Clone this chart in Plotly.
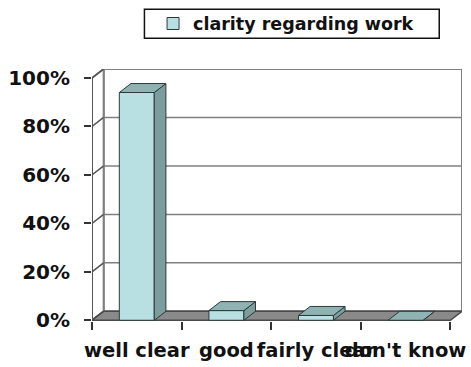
import plotly.graph_objects as go

# Survey answers and their shares (percent)
categories = ["well clear", "good", "fairly clear", "don't know"]
shares = [94, 4, 2, 0]
series_name = "clarity regarding work"
y_ticks = [0, 20, 40, 60, 80, 100]
y_tick_labels = [f"{v}%" for v in y_ticks]

# Pseudo-3D depth offsets, in axis units (categories / percent)
DX = 0.13
DY = 3.7
BAR_W = 0.39

FRONT = "#b8e0e3"
SIDE = "#7b9d9d"
TOP = "#8fb2b3"
EDGE = "#2e3a3a"
WALL_LINE = "#7f7f7f"
FLOOR = "#8a8a8a"

n = len(categories)
xs = list(range(n))
x_left, x_right = -0.5, n - 0.5

fig = go.Figure()

# Front faces of the bars
fig.add_trace(go.Bar(
    x=xs, y=shares, width=BAR_W, name=series_name,
    marker=dict(color=FRONT, line=dict(color=EDGE, width=1)),
    showlegend=True, hoverinfo="skip",
))

# Side faces
sx, sy = [], []
for i, v in zip(xs, shares):
    r = i + BAR_W / 2
    sx += [r, r + DX, r + DX, r, r, None]
    sy += [0, DY, v + DY, v, 0, None]
fig.add_trace(go.Scatter(
    x=sx, y=sy, mode="lines", fill="toself", fillcolor=SIDE,
    line=dict(color=EDGE, width=1), showlegend=False, hoverinfo="skip",
))

# Top faces
tx, ty = [], []
for i, v in zip(xs, shares):
    l, r = i - BAR_W / 2, i + BAR_W / 2
    tx += [l, r, r + DX, l + DX, l, None]
    ty += [v, v, v + DY, v + DY, v, None]
fig.add_trace(go.Scatter(
    x=tx, y=ty, mode="lines", fill="toself", fillcolor=TOP,
    line=dict(color=EDGE, width=1), showlegend=False, hoverinfo="skip",
))

shapes = []
# Back wall
shapes.append(dict(type="rect", xref="x", yref="y", layer="below",
                   x0=x_left + DX, x1=x_right + DX, y0=DY, y1=100 + DY,
                   fillcolor="white", line=dict(color=WALL_LINE, width=2)))
# Left side wall
shapes.append(dict(type="path", xref="x", yref="y", layer="below",
                   path=f"M{x_left},0 L{x_left},100 L{x_left + DX},{100 + DY} "
                        f"L{x_left + DX},{DY} Z",
                   fillcolor="white", line=dict(color=WALL_LINE, width=2)))
# Gridlines on the back wall and their connectors to the front axis
for v in y_ticks:
    shapes.append(dict(type="line", xref="x", yref="y", layer="below",
                       x0=x_left, y0=v, x1=x_left + DX, y1=v + DY,
                       line=dict(color="#555555", width=1.5)))
    if 0 < v < 100:
        shapes.append(dict(type="line", xref="x", yref="y", layer="below",
                           x0=x_left + DX, y0=v + DY, x1=x_right + DX, y1=v + DY,
                           line=dict(color=WALL_LINE, width=1.5)))
# Floor
shapes.append(dict(type="path", xref="x", yref="y", layer="below",
                   path=f"M{x_left},0 L{x_right},0 L{x_right + DX},{DY} "
                        f"L{x_left + DX},{DY} Z",
                   fillcolor=FLOOR, line=dict(color="#4a4a4a", width=1.5)))
# Front value axis
shapes.append(dict(type="line", xref="x", yref="y", layer="below",
                   x0=x_left, y0=0, x1=x_left, y1=100,
                   line=dict(color="#555555", width=2)))
# Legend frame
shapes.append(dict(type="rect", xref="paper", yref="paper",
                   x0=0.1417, x1=0.9385, y0=1.1225, y1=1.2372,
                   fillcolor="white", line=dict(color="#111111", width=1.5),
                   layer="below"))

tick_font = dict(family="DejaVu Sans", size=20, color="#111111", weight="bold")
x_tick_font = dict(family="DejaVu Sans", size=19.5, color="#111111", weight="bold")

fig.update_layout(
    width=471, height=367,
    margin=dict(l=92, r=5, t=69, b=45),
    paper_bgcolor="white", plot_bgcolor="white",
    shapes=shapes,
    barmode="overlay",
    showlegend=True,
    legend=dict(x=0.165, y=1.18, xanchor="left", yanchor="middle",
                bgcolor="rgba(0,0,0,0)", borderwidth=0,
                font=dict(family="DejaVu Sans", size=17.5, color="#111111",
                          weight="bold")),
    xaxis=dict(range=[x_left, x_right + DX], tickvals=xs, ticktext=categories,
               tickangle=0, ticks="", showgrid=False, zeroline=False,
               showline=False, tickfont=x_tick_font, ticklabelstandoff=15,
               ticklabeloverflow="allow",
               minor=dict(tickvals=[i - 0.5 for i in range(n + 1)],
                          ticks="outside", ticklen=8, tickwidth=1.5,
                          tickcolor="#333333", showgrid=False),
               fixedrange=True),
    yaxis=dict(range=[-0.3, 100 + DY], tickvals=y_ticks, ticktext=y_tick_labels,
               ticks="outside", ticklen=7, tickwidth=1.5, tickcolor="#333333",
               showgrid=False, zeroline=False, showline=False,
               tickfont=tick_font, ticklabelstandoff=10, fixedrange=True),
)

fig.write_html("out.html")
